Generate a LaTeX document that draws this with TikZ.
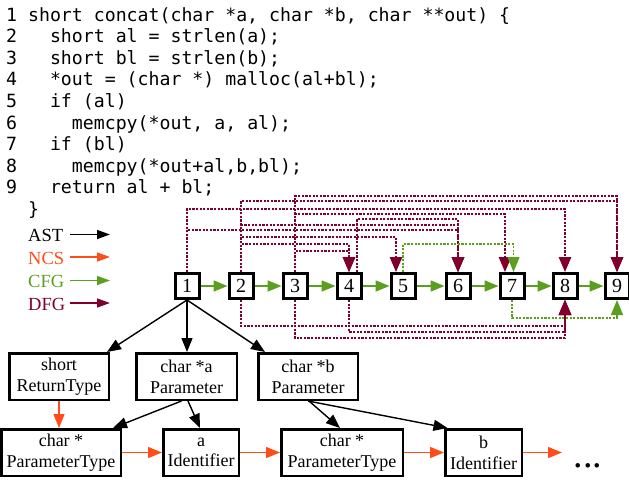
\documentclass[tikz,border=0pt]{standalone}
\usepackage{fontspec}
\setmainfont{Liberation Serif}
\newfontfamily\codefont{DejaVu Sans Mono}
\usetikzlibrary{arrows.meta}

\definecolor{ncscol}{HTML}{FF4D1A}
\definecolor{cfgcol}{HTML}{5AA01E}
\definecolor{dfgcol}{HTML}{80002A}

\tikzset{
  code/.style={anchor=base west, inner sep=0pt, font=\codefont\fontsize{18.2}{21.6}\selectfont},
  legtext/.style={anchor=base west, inner sep=0pt, font=\fontsize{18.5}{20}\selectfont},
  stmt/.style={draw, line width=3pt, fill=white, minimum width=24pt, minimum height=25pt,
    inner sep=0pt, font=\fontsize{20}{22}\selectfont},
  astnode/.style={draw, line width=2.5pt, fill=white, align=center, inner sep=0pt,
    minimum height=46.5pt, font=\fontsize{18}{20.7}\selectfont},
  tip/.style={-{Triangle[length=14pt,width=11pt]}},
  ast/.style={tip, line width=1.4pt, draw=black},
  ncs/.style={tip, line width=1.4pt, draw=ncscol},
  cfg/.style={tip, line width=1.8pt, draw=cfgcol},
  cfgdash/.style={-{Triangle[length=15pt,width=12pt]}, line width=1.3pt, draw=cfgcol,
    dash pattern=on 2.2pt off 1.4pt},
  dfg/.style={-{Triangle[length=15pt,width=12.5pt]}, line width=1.3pt, draw=dfgcol,
    dash pattern=on 2.2pt off 1.4pt},
  legarrow/.style={-{Triangle[length=13pt,width=9pt]}, line width=1.4pt},
}

\begin{document}
\begin{tikzpicture}[x=1pt, y=-1pt]
\useasboundingbox (0,0) rectangle (629,480);

% source listing
\node[code] (ln1) at (6,21)    {1};
\node[code] (c1)  at (27.92,21) {short concat(char *a, char *b, char **out) \{};
\node[code] (ln2) at (6,42.6)  {2};
\node[code] (c2)  at (49.84,42.6) {short al = strlen(a);};
\node[code] (ln3) at (6,64.2)  {3};
\node[code] (c3)  at (49.84,64.2) {short bl = strlen(b);};
\node[code] (ln4) at (6,85.8)  {4};
\node[code] (c4)  at (49.84,85.8) {*out = (char *) malloc(al+bl);};
\node[code] (ln5) at (6,107.4) {5};
\node[code] (c5)  at (49.84,107.4) {if (al)};
\node[code] (ln6) at (6,129)   {6};
\node[code] (c6)  at (71.76,129) {memcpy(*out, a, al);};
\node[code] (ln7) at (6,150.6) {7};
\node[code] (c7)  at (49.84,150.6) {if (bl)};
\node[code] (ln8) at (6,172.2) {8};
\node[code] (c8)  at (71.76,172.2) {memcpy(*out+al,b,bl);};
\node[code] (ln9) at (6,193.8) {9};
\node[code] (c9)  at (49.84,193.8) {return al + bl;};
\node[code] (c10) at (27.92,215.4) {\}};

% legend
\node[legtext] (lAST) at (28,241) {AST};
\node[legtext, text=ncscol] (lNCS) at (28,264) {NCS};
\node[legtext, text=cfgcol] (lCFG) at (28,287) {CFG};
\node[legtext, text=dfgcol] (lDFG) at (28,310) {DFG};
\coordinate (aA) at (70,234.5);  \coordinate (aB) at (110,234.5);
\coordinate (nA) at (70,257);    \coordinate (nB) at (110,257);
\coordinate (gA) at (70,280.5);  \coordinate (gB) at (110,280.5);
\coordinate (dA) at (70,303);    \coordinate (dB) at (110,303);
\draw[legarrow, draw=black] (aA) -- (aB);
\draw[legarrow, draw=ncscol] (nA) -- (nB);
\draw[legarrow, draw=cfgcol] (gA) -- (gB);
\draw[legarrow, draw=dfgcol] (dA) -- (dB);

% statement nodes
\node[stmt] (n1) at (187,286) {1};
\node[stmt] (n2) at (241,286) {2};
\node[stmt] (n3) at (295,286) {3};
\node[stmt] (n4) at (349,286) {4};
\node[stmt] (n5) at (403,286) {5};
\node[stmt] (n6) at (458,286) {6};
\node[stmt] (n7) at (512,286) {7};
\node[stmt] (n8) at (565,286) {8};
\node[stmt] (n9) at (617,286) {9};

% data flow edges above the statement row
\draw[dfg] (n3.north) -- (n3.north |- 0,196) -| (n9.north);
\draw[dfg] (n2.north) -- (n2.north |- 0,201) -| (n9.north);
\draw[dfg] (n1.north) -- (n1.north |- 0,209) -| (n8.north);
\draw[dfg] (n3.north) -- (n3.north |- 0,214) -| ([xshift=-7pt]n7.north);
\draw[dfg] ([xshift=8pt]n4.north) -- ([xshift=8pt]n4.north |- 0,219) -| (n6.north);
\draw[dfg] (n2.north) -- (n2.north |- 0,225) -| (n6.north);
\draw[dfg] (n1.north) -- (n1.north |- 0,230) -| (n6.north);
\draw[dfg] (n2.north) -- (n2.north |- 0,237) -| ([xshift=-7pt]n5.north);
\draw[dfg] (n2.north) -- (n2.north |- 0,244) -| (n4.north);
\draw[dfg] (n3.north) -- (n3.north |- 0,251) -| (n4.north);

% control flow
\foreach \a/\b in {n1/n2,n2/n3,n3/n4,n4/n5,n5/n6,n6/n7,n7/n8,n8/n9}
  \draw[cfg] (\a) -- (\b);
\draw[cfgdash] (n5.north) -- (n5.north |- 0,244) -| ([xshift=1.5pt]n7.north);
\draw[cfgdash] (n7.south) -- (n7.south |- 0,318) -| (n9.south);

% data flow edges below the statement row
\draw[dfg] (n2.south) -- (n2.south |- 0,326) -| (n8.south);
\draw[dfg] (n4.south) -- (n4.south |- 0,332) -| (n8.south);
\draw[dfg] (n3.south) -- (n3.south |- 0,338) -| (n8.south);

% syntax tree
\node[astnode, minimum width=99.5pt] (rt)  at (59,376.5)  {short\\ReturnType};
\node[astnode, minimum width=100.5pt] (pa) at (186.5,376.5) {char *a\\Parameter};
\node[astnode, minimum width=99.5pt] (pb)  at (308,376.5) {char *b\\Parameter};
\node[astnode, minimum width=119.5pt] (pt1) at (61,452.5) {char *\\ParameterType};
\node[astnode, minimum width=75.5pt] (ia)  at (201,452.5) {a\\Identifier};
\node[astnode, minimum width=121.5pt] (pt2) at (342,452.5) {char *\\ParameterType};
\node[astnode, minimum width=76.5pt] (ib)  at (483.5,452.5) {b\\Identifier};
\node[inner sep=0pt, anchor=base, font=\fontsize{38}{40}\selectfont] (more) at (588,467) {...};
\coordinate (moreIn) at (562,452.5);

\draw[ast] (n1.south) -- ([xshift=48pt]rt.north);
\draw[ast] (n1.south) -- (n1.south |- pa.north);
\draw[ast] (n1.south) -- ([xshift=-43pt]pb.north);
\draw[ast] ([xshift=-5pt]pa.south) -- ([xshift=52pt]pt1.north);
\draw[ast] ([xshift=1.5pt]pa.south) -- ([xshift=-1pt]ia.north);
\draw[ast] ([xshift=1pt]pb.south) -- ([xshift=-2pt]pt2.north);
\draw[ast] (pb.south) -- ([xshift=-36pt]ib.north);

\draw[ncs] (rt.south) -- (rt.south |- pt1.north);
\draw[ncs] (pt1.east) -- (ia.west);
\draw[ncs] (ia.east) -- (pt2.west);
\draw[ncs] (pt2.east) -- (ib.west);
\draw[ncs] (ib.east) -- (moreIn);
\end{tikzpicture}
\end{document}
